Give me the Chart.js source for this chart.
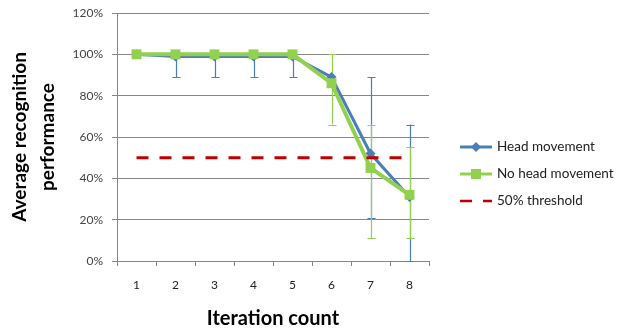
<!DOCTYPE html>
<html>
<head>
<meta charset="utf-8">
<script src="https://cdn.jsdelivr.net/npm/chart.js@4.4.1/dist/chart.umd.min.js"></script>
<style>
  html, body { margin: 0; padding: 0; background: #fff; }
  #wrap { width: 629px; height: 331px; }
</style>
</head>
<body>
<div id="wrap"><canvas id="chart" width="629" height="331"></canvas></div>
<script>
const iterations = ['1', '2', '3', '4', '5', '6', '7', '8'];
const headMovement = [100, 99, 99, 99, 99, 89, 52, 31];
const noHeadMovement = [100, 100, 100, 100, 100, 86, 45, 32];
const threshold = [50, 50, 50, 50, 50, 50, 50, 50];

// error bar ends (null = no bar)
const headLow = [null, 89, 89, 89, 89, null, 21, 0];
const headHigh = [null, 100, 100, 100, 100, null, 89, 66];
const noHeadLow = [null, null, null, null, null, 66, 11, 11];
const noHeadHigh = [null, null, null, null, null, 100, 66, 55];

const yTicks = [0, 20, 40, 60, 80, 100, 120];

const BLUE = '#4A7EBB';
const GREEN = '#92D050';
const RED = '#C00000';
const FONT = 'Lato, "Open Sans", sans-serif';

const errorBars = {
    id: 'errorBars',
    beforeDatasetsDraw(chart) {
        const ctx = chart.ctx;
        const x = chart.scales.x;
        const y = chart.scales.y;
        const sets = [
            { low: headLow, high: headHigh, color: BLUE },
            { low: noHeadLow, high: noHeadHigh, color: GREEN }
        ];
        ctx.save();
        ctx.lineWidth = 1.2;
        sets.forEach(s => {
            ctx.strokeStyle = s.color;
            s.low.forEach((lo, i) => {
                if (lo === null) return;
                const px = Math.round(x.getPixelForValue(i)) + 0.5;
                const y1 = y.getPixelForValue(lo);
                const y2 = y.getPixelForValue(s.high[i]);
                ctx.beginPath();
                ctx.moveTo(px, y1);
                ctx.lineTo(px, y2);
                [y1, y2].forEach(yy => {
                    const r = Math.round(yy) + 0.5;
                    ctx.moveTo(px - 4, r);
                    ctx.lineTo(px + 4, r);
                });
                ctx.stroke();
            });
        });
        ctx.restore();
    }
};

const sideLegend = {
    id: 'sideLegend',
    afterDraw(chart) {
        const ctx = chart.ctx;
        const x0 = 460, x1 = 492;
        const rows = [147, 174, 201];
        ctx.save();
        ctx.font = '13.5px ' + FONT;
        ctx.textBaseline = 'middle';
        chart.data.datasets.forEach((ds, i) => {
            const yy = rows[i];
            ctx.strokeStyle = ds.borderColor;
            ctx.lineWidth = i === 2 ? 2.5 : 3;
            ctx.setLineDash(ds.borderDash || []);
            ctx.beginPath();
            ctx.moveTo(x0, yy);
            ctx.lineTo(x1, yy);
            ctx.stroke();
            ctx.setLineDash([]);
            ctx.fillStyle = ds.backgroundColor;
            if (ds.pointStyle === 'rectRot') {
                ctx.beginPath();
                ctx.moveTo(476, yy - 5);
                ctx.lineTo(481, yy);
                ctx.lineTo(476, yy + 5);
                ctx.lineTo(471, yy);
                ctx.closePath();
                ctx.fill();
            } else if (ds.pointStyle === 'rect') {
                ctx.fillRect(471, yy - 5, 10, 10);
            }
            ctx.fillStyle = '#222';
            ctx.fillText(ds.label, 497, yy);
        });
        ctx.restore();
    }
};

new Chart(document.getElementById('chart'), {
    type: 'line',
    data: {
        labels: iterations,
        datasets: [
            {
                label: 'Head movement',
                data: headMovement,
                borderColor: BLUE,
                backgroundColor: BLUE,
                borderWidth: 3,
                pointStyle: 'rectRot',
                pointRadius: 5,
                pointBorderWidth: 0,
                order: 3
            },
            {
                label: 'No head movement',
                data: noHeadMovement,
                borderColor: GREEN,
                backgroundColor: GREEN,
                borderWidth: 4,
                pointStyle: 'rect',
                pointRadius: 7,
                pointBorderWidth: 0,
                order: 2
            },
            {
                label: '50% threshold',
                data: threshold,
                borderColor: RED,
                backgroundColor: RED,
                borderWidth: 3,
                borderDash: [12, 11],
                pointRadius: 0,
                order: 1
            }
        ]
    },
    options: {
        responsive: false,
        animation: false,
        layout: { padding: { top: 13, right: 200, bottom: 0, left: 0 } },
        plugins: {
            legend: { display: false },
            tooltip: { enabled: false }
        },
        scales: {
            x: {
                offset: true,
                afterFit: s => { s.height = 70; },
                grid: { offset: true, drawOnChartArea: false, tickLength: 5, color: '#868686' },
                border: { color: '#868686' },
                ticks: { color: '#222', font: { family: FONT, size: 12 }, padding: 12 },
                title: {
                    display: true,
                    text: 'Iteration count',
                    color: '#000',
                    font: { family: FONT, size: 20, weight: 'bold', lineHeight: 1.2 },
                    padding: { top: 0, bottom: 0 }
                }
            },
            y: {
                min: 0,
                max: 120,
                afterBuildTicks: s => { s.ticks = yTicks.map(v => ({ value: v })); },
                afterFit: s => { s.width = 117; s.paddingTop = 0; s.paddingBottom = 0; },
                grid: { color: '#868686', tickLength: 5 },
                border: { color: '#868686' },
                ticks: {
                    color: '#444',
                    font: { family: FONT, size: 12 },
                    padding: 9,
                    callback: v => v + '%'
                },
                title: {
                    display: true,
                    text: ['Average recognition', 'performance'],
                    color: '#000',
                    font: { family: FONT, size: 19, weight: 'bold', lineHeight: 1.47 },
                    padding: { top: 6, bottom: 0 }
                }
            }
        }
    },
    plugins: [errorBars, sideLegend]
});
</script>
</body>
</html>
